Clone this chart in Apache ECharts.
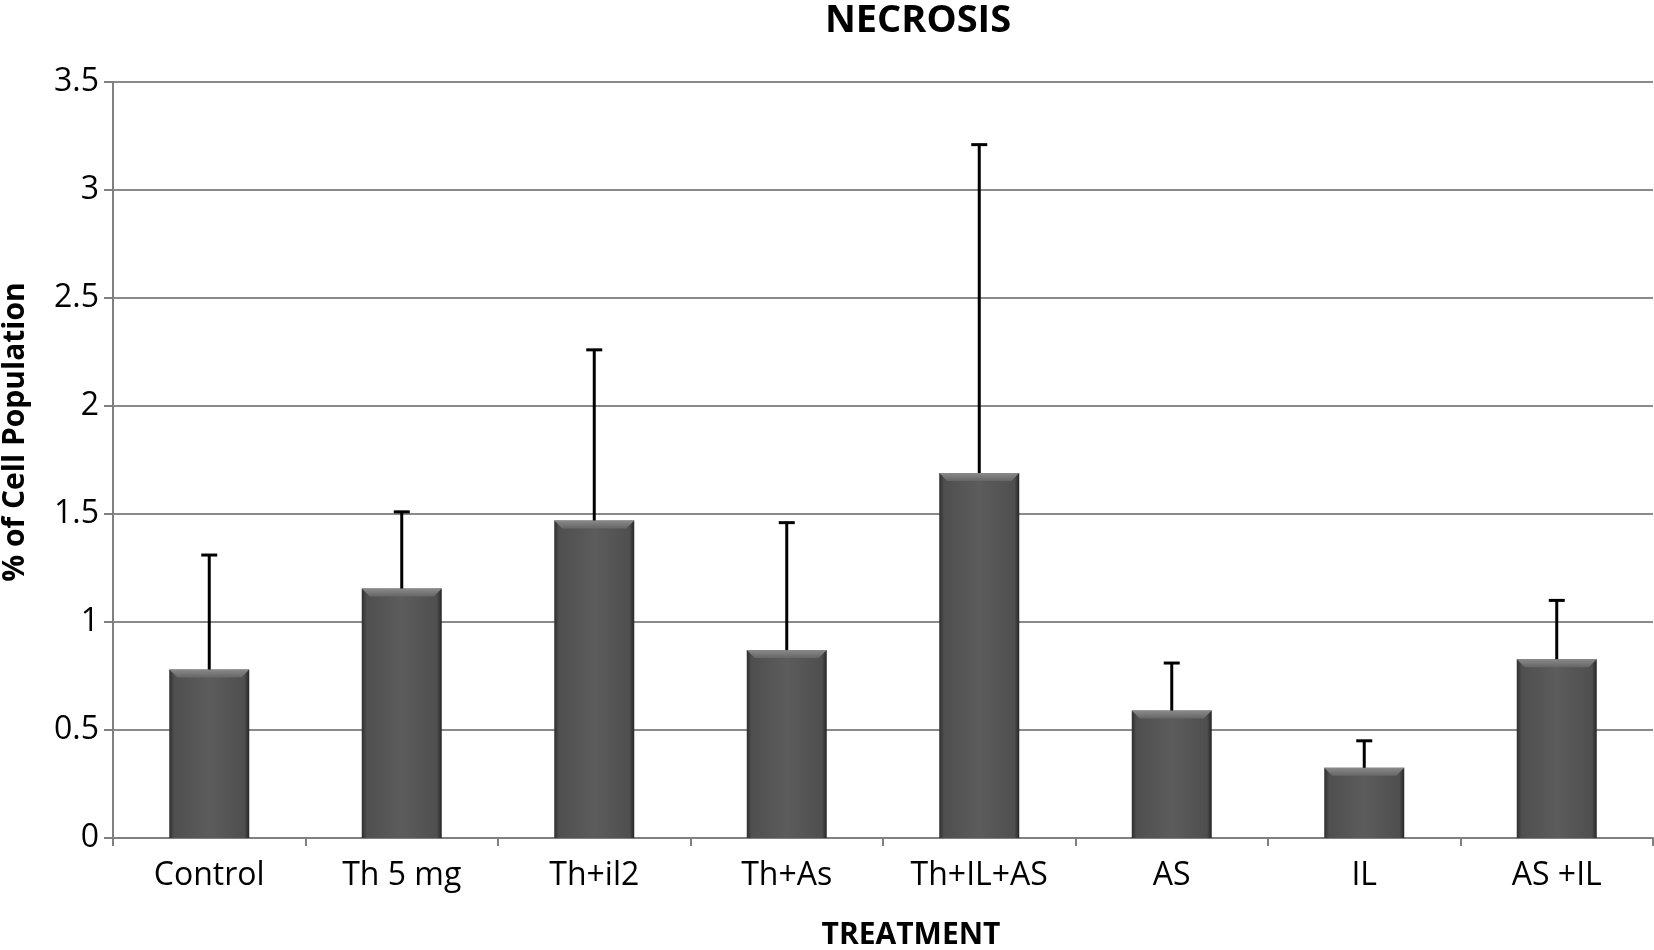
<!DOCTYPE html>
<html>
<head>
<meta charset="utf-8">
<script src="https://cdn.jsdelivr.net/npm/echarts@6/dist/echarts.min.js"></script>
<style>html,body{margin:0;padding:0;background:#fff}#c{width:1654px;height:950px}</style>
</head>
<body>
<div id="c"></div>
<script>
const categories = ['Control', 'Th 5 mg', 'Th+il2', 'Th+As', 'Th+IL+AS', 'AS', 'IL', 'AS +IL'];
const means = [0.78, 1.155, 1.47, 0.87, 1.69, 0.59, 0.325, 0.828];
const upperErrors = [1.31, 1.51, 2.26, 1.46, 3.21, 0.81, 0.45, 1.10];
const yTicks = [0, 0.5, 1, 1.5, 2, 2.5, 3, 3.5];

const chart = echarts.init(document.getElementById('c'));
const font = '"Open Sans", "Noto Sans", sans-serif';
const BAR_W = 80;
chart.setOption({
  animation: false,
  backgroundColor: '#fff',
  title: [
    {
      text: 'NECROSIS', left: 913, top: -3, textAlign: 'center',
      textStyle: { fontFamily: font, fontWeight: 'bold', fontSize: 38, color: '#000' }
    },
    {
      text: 'TREATMENT', left: 906, top: 915, textAlign: 'center',
      textStyle: { fontFamily: font, fontWeight: 'bold', fontSize: 30, color: '#000' }
    }
  ],
  graphic: [{
    type: 'text', x: 15, y: 432, rotation: Math.PI / 2,
    style: {
      text: '% of Cell Population', fill: '#000',
      font: 'bold 30px "Open Sans", "Noto Sans", sans-serif',
      textAlign: 'center', textVerticalAlign: 'middle'
    }
  }],
  grid: { left: 113, right: 1, top: 82, bottom: 112 },
  xAxis: {
    type: 'category', data: categories,
    axisLine: { lineStyle: { color: '#808080', width: 2 } },
    axisTick: { show: true, length: 8, lineStyle: { color: '#808080', width: 2 } },
    axisLabel: { fontFamily: font, fontSize: 32, color: '#000', margin: 22 }
  },
  yAxis: {
    type: 'value', min: 0, max: 3.5, interval: 0.5,
    axisLine: { show: true, lineStyle: { color: '#808080', width: 2 } },
    axisTick: { show: true, length: 9, lineStyle: { color: '#808080', width: 2 } },
    axisLabel: {
      fontFamily: font, fontSize: 32, color: '#000', margin: 14,
      formatter: v => (yTicks.indexOf(v) >= 0 ? String(v) : '')
    },
    splitLine: { lineStyle: { color: '#8a8a8a', width: 2 } }
  },
  series: [
    {
      type: 'bar', data: means, barWidth: BAR_W,
      itemStyle: {
        color: new echarts.graphic.LinearGradient(0, 0, 1, 0, [
          { offset: 0, color: '#2e2e2e' },
          { offset: 0.06, color: '#4f4f4f' },
          { offset: 0.5, color: '#5c5c5c' },
          { offset: 0.94, color: '#4f4f4f' },
          { offset: 1, color: '#262626' }
        ])
      },
      z: 2
    },
    {
      type: 'custom',
      data: categories.map((c, i) => [i, means[i]]),
      renderItem: function (params, api) {
        const p = api.coord([api.value(0), api.value(1)]);
        const hw = BAR_W / 2, d = 8;
        return {
          type: 'polygon',
          shape: { points: [[p[0] - hw, p[1]], [p[0] + hw, p[1]], [p[0] + hw - d, p[1] + d], [p[0] - hw + d, p[1] + d]] },
          style: { fill: new echarts.graphic.LinearGradient(0, 0, 0, 1, [{ offset: 0, color: '#8a8a8a' }, { offset: 1, color: '#666' }]) }
        };
      },
      z: 3
    },
    {
      type: 'custom',
      data: categories.map((c, i) => [i, means[i], upperErrors[i]]),
      renderItem: function (params, api) {
        const x = api.value(0);
        const top = api.coord([x, api.value(2)]);
        const base = api.coord([x, api.value(1)]);
        const hw = 8;
        const style = { stroke: '#000', lineWidth: 3 };
        return {
          type: 'group',
          children: [
            { type: 'line', shape: { x1: top[0], y1: base[1], x2: top[0], y2: top[1] }, style: style },
            { type: 'line', shape: { x1: top[0] - hw, y1: top[1], x2: top[0] + hw, y2: top[1] }, style: style }
          ]
        };
      },
      z: 4
    }
  ]
});
</script>
</body>
</html>
